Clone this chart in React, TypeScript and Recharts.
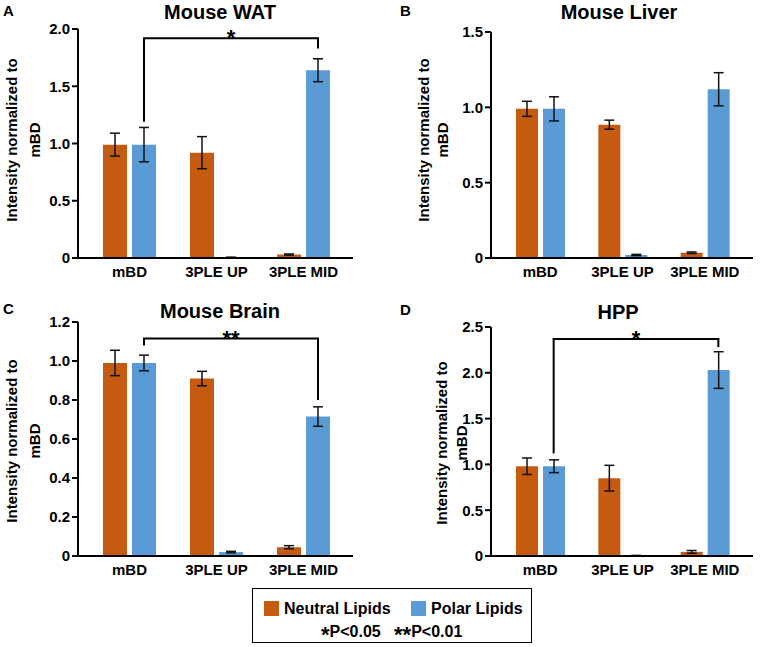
import React from "react";
import { BarChart, Bar, XAxis, YAxis, ErrorBar, ReferenceLine } from "recharts";

// shared categories
const categories = ["mBD", "3PLE UP", "3PLE MID"];

// A - Mouse WAT
const watNeutral = [0.99, 0.92, 0.03];
const watNeutralErr = [0.1, 0.14, 0.005];
const watPolar = [0.99, 0.005, 1.64];
const watPolarErr = [0.15, 0.002, 0.1];

// B - Mouse Liver
const liverNeutral = [0.99, 0.885, 0.035];
const liverNeutralErr = [0.05, 0.03, 0.005];
const liverPolar = [0.99, 0.02, 1.12];
const liverPolarErr = [0.08, 0.004, 0.11];

// C - Mouse Brain
const brainNeutral = [0.99, 0.91, 0.045];
const brainNeutralErr = [0.065, 0.037, 0.008];
const brainPolar = [0.99, 0.02, 0.715];
const brainPolarErr = [0.04, 0.004, 0.05];

// D - HPP
const hppNeutral = [0.98, 0.85, 0.045];
const hppNeutralErr = [0.09, 0.14, 0.015];
const hppPolar = [0.98, 0.005, 2.03];
const hppPolarErr = [0.07, 0.002, 0.2];

// y ticks per panel
const watTicks = [0, 0.5, 1, 1.5, 2];
const liverTicks = [0, 0.5, 1, 1.5];
const brainTicks = [0, 0.2, 0.4, 0.6, 0.8, 1, 1.2];
const hppTicks = [0, 0.5, 1, 1.5, 2, 2.5];

// significance brackets: [left start, top, right end]
const watBracket = [1.19, 1.92, 1.83];
const brainBracket = [1.08, 1.115, 0.8];
const hppBracket = [1.12, 2.37, 2.28];

const ORANGE = "#C55A11";
const BLUE = "#5B9BD5";
const FONT = "'Liberation Sans', Arial, sans-serif";

function buildRows(n: number[], nErr: number[], p: number[], pErr: number[]) {
  return categories.map((name, i) => ({
    name,
    neutral: n[i],
    neutralErr: nErr[i],
    polar: p[i],
    polarErr: pErr[i],
  }));
}

const fmt = (v: number) => (v === 0 ? "0" : v.toFixed(1));

type PanelProps = {
  letter: string;
  title: string;
  rows: any[];
  ticks: number[];
  bracket?: number[];
  stars?: string;
  width: number;
  height: number;
  margin: { top: number; right: number; bottom: number; left: number };
  yAxisWidth: number;
  padding: { left: number; right: number };
  barSize: number;
  letterPos: [number, number];
  titlePos: [number, number];
  labelX: [number, number];
  labelY: number;
};

function Panel(props: PanelProps) {
  const { rows, ticks, bracket, barSize } = props;
  const gap = 5;
  const dx = (barSize + gap) / 2; // center of the blue bar within its group
  const top = ticks[ticks.length - 1];

  return (
    <BarChart
      width={props.width}
      height={props.height}
      data={rows}
      margin={props.margin}
      barSize={barSize}
      barGap={gap}
    >
      <XAxis
        dataKey="name"
        tickLine={false}
        axisLine={{ stroke: "#000", strokeWidth: 2 }}
        tick={{ fill: "#000", fontSize: 15, fontWeight: "bold", fontFamily: FONT }}
        padding={props.padding}
        height={30}
        interval={0}
      />
      <YAxis
        width={props.yAxisWidth}
        domain={[0, top]}
        ticks={ticks}
        tickFormatter={fmt}
        axisLine={{ stroke: "#000", strokeWidth: 2 }}
        tickLine={{ stroke: "#000", strokeWidth: 2 }}
        tick={{ fill: "#000", fontSize: 15, fontWeight: "bold", fontFamily: FONT }}
        allowDataOverflow
      />
      <Bar dataKey="neutral" fill={ORANGE} isAnimationActive={false}>
        <ErrorBar dataKey="neutralErr" stroke="#111" strokeWidth={1.5} width={5} />
      </Bar>
      <Bar dataKey="polar" fill={BLUE} isAnimationActive={false}>
        <ErrorBar dataKey="polarErr" stroke="#111" strokeWidth={1.5} width={5} />
      </Bar>

      {bracket && (
        <ReferenceLine
          segment={[
            { x: categories[0], y: bracket[0] },
            { x: categories[0], y: bracket[1] },
          ]}
          shape={(p: any) => (
            <line x1={p.x1 + dx} y1={p.y1} x2={p.x2 + dx} y2={p.y2} stroke="#000" strokeWidth={2} />
          )}
        />
      )}
      {bracket && (
        <ReferenceLine
          segment={[
            { x: categories[0], y: bracket[1] },
            { x: categories[2], y: bracket[1] },
          ]}
          shape={(p: any) => (
            <g>
              <line x1={p.x1 + dx - 1} y1={p.y1} x2={p.x2 + dx + 1} y2={p.y2} stroke="#000" strokeWidth={2} />
              <text
                x={(p.x1 + p.x2) / 2 + dx}
                y={p.y1 + 7}
                textAnchor="middle"
                fontSize={22}
                fontWeight="bold"
                fontFamily={FONT}
                fill="#000"
              >
                {props.stars}
              </text>
            </g>
          )}
        />
      )}
      {bracket && (
        <ReferenceLine
          segment={[
            { x: categories[2], y: bracket[1] },
            { x: categories[2], y: bracket[2] },
          ]}
          shape={(p: any) => (
            <line x1={p.x1 + dx} y1={p.y1} x2={p.x2 + dx} y2={p.y2} stroke="#000" strokeWidth={2} />
          )}
        />
      )}

      <text
        x={props.letterPos[0]}
        y={props.letterPos[1]}
        fontSize={15}
        fontWeight="bold"
        fontFamily={FONT}
        fill="#000"
      >
        {props.letter}
      </text>
      <text
        x={props.titlePos[0]}
        y={props.titlePos[1]}
        textAnchor="middle"
        fontSize={20}
        fontWeight="bold"
        fontFamily={FONT}
        fill="#000"
      >
        {props.title}
      </text>
      <text
        transform={`translate(${props.labelX[0]},${props.labelY}) rotate(-90)`}
        textAnchor="middle"
        dominantBaseline="middle"
        fontSize={15}
        fontWeight="bold"
        fontFamily={FONT}
        fill="#000"
      >
        Intensity normalized to
      </text>
      <text
        transform={`translate(${props.labelX[1]},${props.labelY}) rotate(-90)`}
        textAnchor="middle"
        dominantBaseline="middle"
        fontSize={15}
        fontWeight="bold"
        fontFamily={FONT}
        fill="#000"
      >
        mBD
      </text>
    </BarChart>
  );
}

export default function App() {
  return (
    <div
      style={{
        position: "absolute",
        left: 0,
        top: 0,
        width: 766,
        height: 647,
        background: "#fff",
        fontFamily: FONT,
      }}
    >
      <div style={{ position: "absolute", left: 0, top: 0 }}>
        <Panel
          letter="A"
          title="Mouse WAT"
          rows={buildRows(watNeutral, watNeutralErr, watPolar, watPolarErr)}
          ticks={watTicks}
          bracket={watBracket}
          stars="*"
          width={380}
          height={295}
          margin={{ top: 29, right: 27, bottom: 7, left: 0 }}
          yAxisWidth={78}
          padding={{ left: 8, right: 6 }}
          barSize={24}
          letterPos={[3, 16]}
          titlePos={[220, 19]}
          labelX={[13, 36]}
          labelY={140}
        />
      </div>
      <div style={{ position: "absolute", left: 380, top: 0 }}>
        <Panel
          letter="B"
          title="Mouse Liver"
          rows={buildRows(liverNeutral, liverNeutralErr, liverPolar, liverPolarErr)}
          ticks={liverTicks}
          width={386}
          height={295}
          margin={{ top: 32, right: 13, bottom: 7, left: 0 }}
          yAxisWidth={111}
          padding={{ left: 8, right: 7 }}
          barSize={22}
          letterPos={[20, 16]}
          titlePos={[239, 19]}
          labelX={[45, 64]}
          labelY={140}
        />
      </div>
      <div style={{ position: "absolute", left: 0, top: 300 }}>
        <Panel
          letter="C"
          title="Mouse Brain"
          rows={buildRows(brainNeutral, brainNeutralErr, brainPolar, brainPolarErr)}
          ticks={brainTicks}
          bracket={brainBracket}
          stars="**"
          width={380}
          height={295}
          margin={{ top: 22, right: 27, bottom: 9, left: 0 }}
          yAxisWidth={78}
          padding={{ left: 8, right: 6 }}
          barSize={24}
          letterPos={[3, 14]}
          titlePos={[220, 18]}
          labelX={[13, 36]}
          labelY={141}
        />
      </div>
      <div style={{ position: "absolute", left: 380, top: 300 }}>
        <Panel
          letter="D"
          title="HPP"
          rows={buildRows(hppNeutral, hppNeutralErr, hppPolar, hppPolarErr)}
          ticks={hppTicks}
          bracket={hppBracket}
          stars="*"
          width={386}
          height={295}
          margin={{ top: 27, right: 13, bottom: 9, left: 0 }}
          yAxisWidth={111}
          padding={{ left: 8, right: 7 }}
          barSize={22}
          letterPos={[20, 15]}
          titlePos={[238, 19]}
          labelX={[63, 83]}
          labelY={143}
        />
      </div>

      {/* shared legend */}
      <div
        style={{
          position: "absolute",
          left: 252,
          top: 588,
          width: 278,
          height: 53,
          border: "1.5px solid #000",
          fontWeight: "bold",
          fontSize: 16,
          color: "#000",
        }}
      >
        <div style={{ position: "absolute", left: 11, top: 12, width: 15, height: 15, background: ORANGE }} />
        <div style={{ position: "absolute", left: 31, top: 10, lineHeight: "19px" }}>Neutral Lipids</div>
        <div style={{ position: "absolute", left: 158, top: 12, width: 15, height: 15, background: BLUE }} />
        <div style={{ position: "absolute", left: 178, top: 10, lineHeight: "19px" }}>Polar Lipids</div>
        <div style={{ position: "absolute", left: 68, top: 33, lineHeight: "19px", whiteSpace: "pre" }}>
          <span style={{ fontSize: 22, verticalAlign: "-5px" }}>*</span>P&lt;0.05{"   "}
          <span style={{ fontSize: 22, verticalAlign: "-5px" }}>**</span>P&lt;0.01
        </div>
      </div>
    </div>
  );
}
